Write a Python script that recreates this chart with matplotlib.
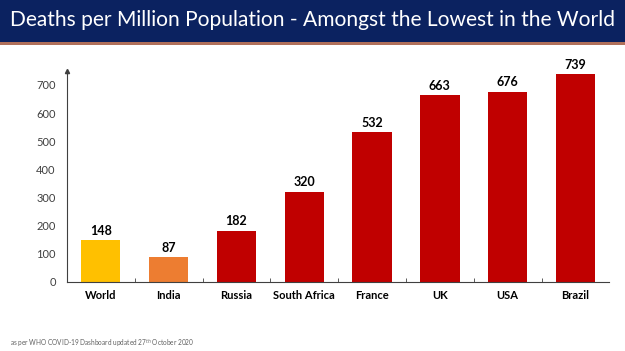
import matplotlib.pyplot as plt
from matplotlib.patches import Rectangle

countries = ['World', 'India', 'Russia', 'South Africa', 'France', 'UK', 'USA', 'Brazil']
deaths = [148, 87, 182, 320, 532, 663, 676, 739]
colors = ['#FFC000', '#ED7D31'] + ['#C00000'] * 6

plt.rcParams['font.family'] = ['Lato', 'DejaVu Sans']

fig = plt.figure(figsize=(6.25, 3.51), dpi=100)

# title banner
fig.patches.append(Rectangle((0, 1 - 42 / 351), 1, 42 / 351, transform=fig.transFigure,
                             facecolor='#0B2260', edgecolor='none', zorder=0))
fig.patches.append(Rectangle((0, 1 - 45 / 351), 1, 3 / 351, transform=fig.transFigure,
                             facecolor='#B0705A', edgecolor='none', zorder=0))
fig.text(0.016, 1 - 20 / 351, 'Deaths per Million Population - Amongst the Lowest in the World',
         color='white', fontsize=15.1, va='center', ha='left')

ax = fig.add_axes([0.107, 0.197, 0.868, 0.601])
x = range(len(countries))
bars = ax.bar(x, deaths, width=0.58, color=colors)
for xi, v in zip(x, deaths):
    ax.text(xi, v + 12, str(v), ha='center', va='bottom', fontsize=9, fontweight='bold')

ax.set_xlim(-0.5, len(countries) - 0.5)
ax.set_ylim(0, 750)
ax.set_yticks(range(0, 701, 100))
ax.set_xticks(list(x))
ax.set_xticklabels(countries, fontweight='bold', fontsize=8)
ax.set_xticks([i + 0.5 for i in range(len(countries) - 1)], minor=True)
ax.tick_params(axis='x', which='major', length=0, pad=6)
ax.tick_params(axis='x', which='minor', length=3, direction='in', color='#404040')
ax.tick_params(axis='y', length=0, labelsize=8, colors='#404040', pad=8)
for s in ['top', 'right']:
    ax.spines[s].set_visible(False)
ax.spines['left'].set_color('#404040')
ax.spines['bottom'].set_color('#404040')
ax.plot(0, 1, '^', color='#404040', markersize=3, transform=ax.transAxes, clip_on=False)

fig.text(0.016, 1 - 343 / 351, 'as per WHO COVID-19 Dashboard updated 27$^{th}$ October 2020',
         fontsize=4.7, color='#606060', va='center')

fig.savefig('out.png', dpi=100)
